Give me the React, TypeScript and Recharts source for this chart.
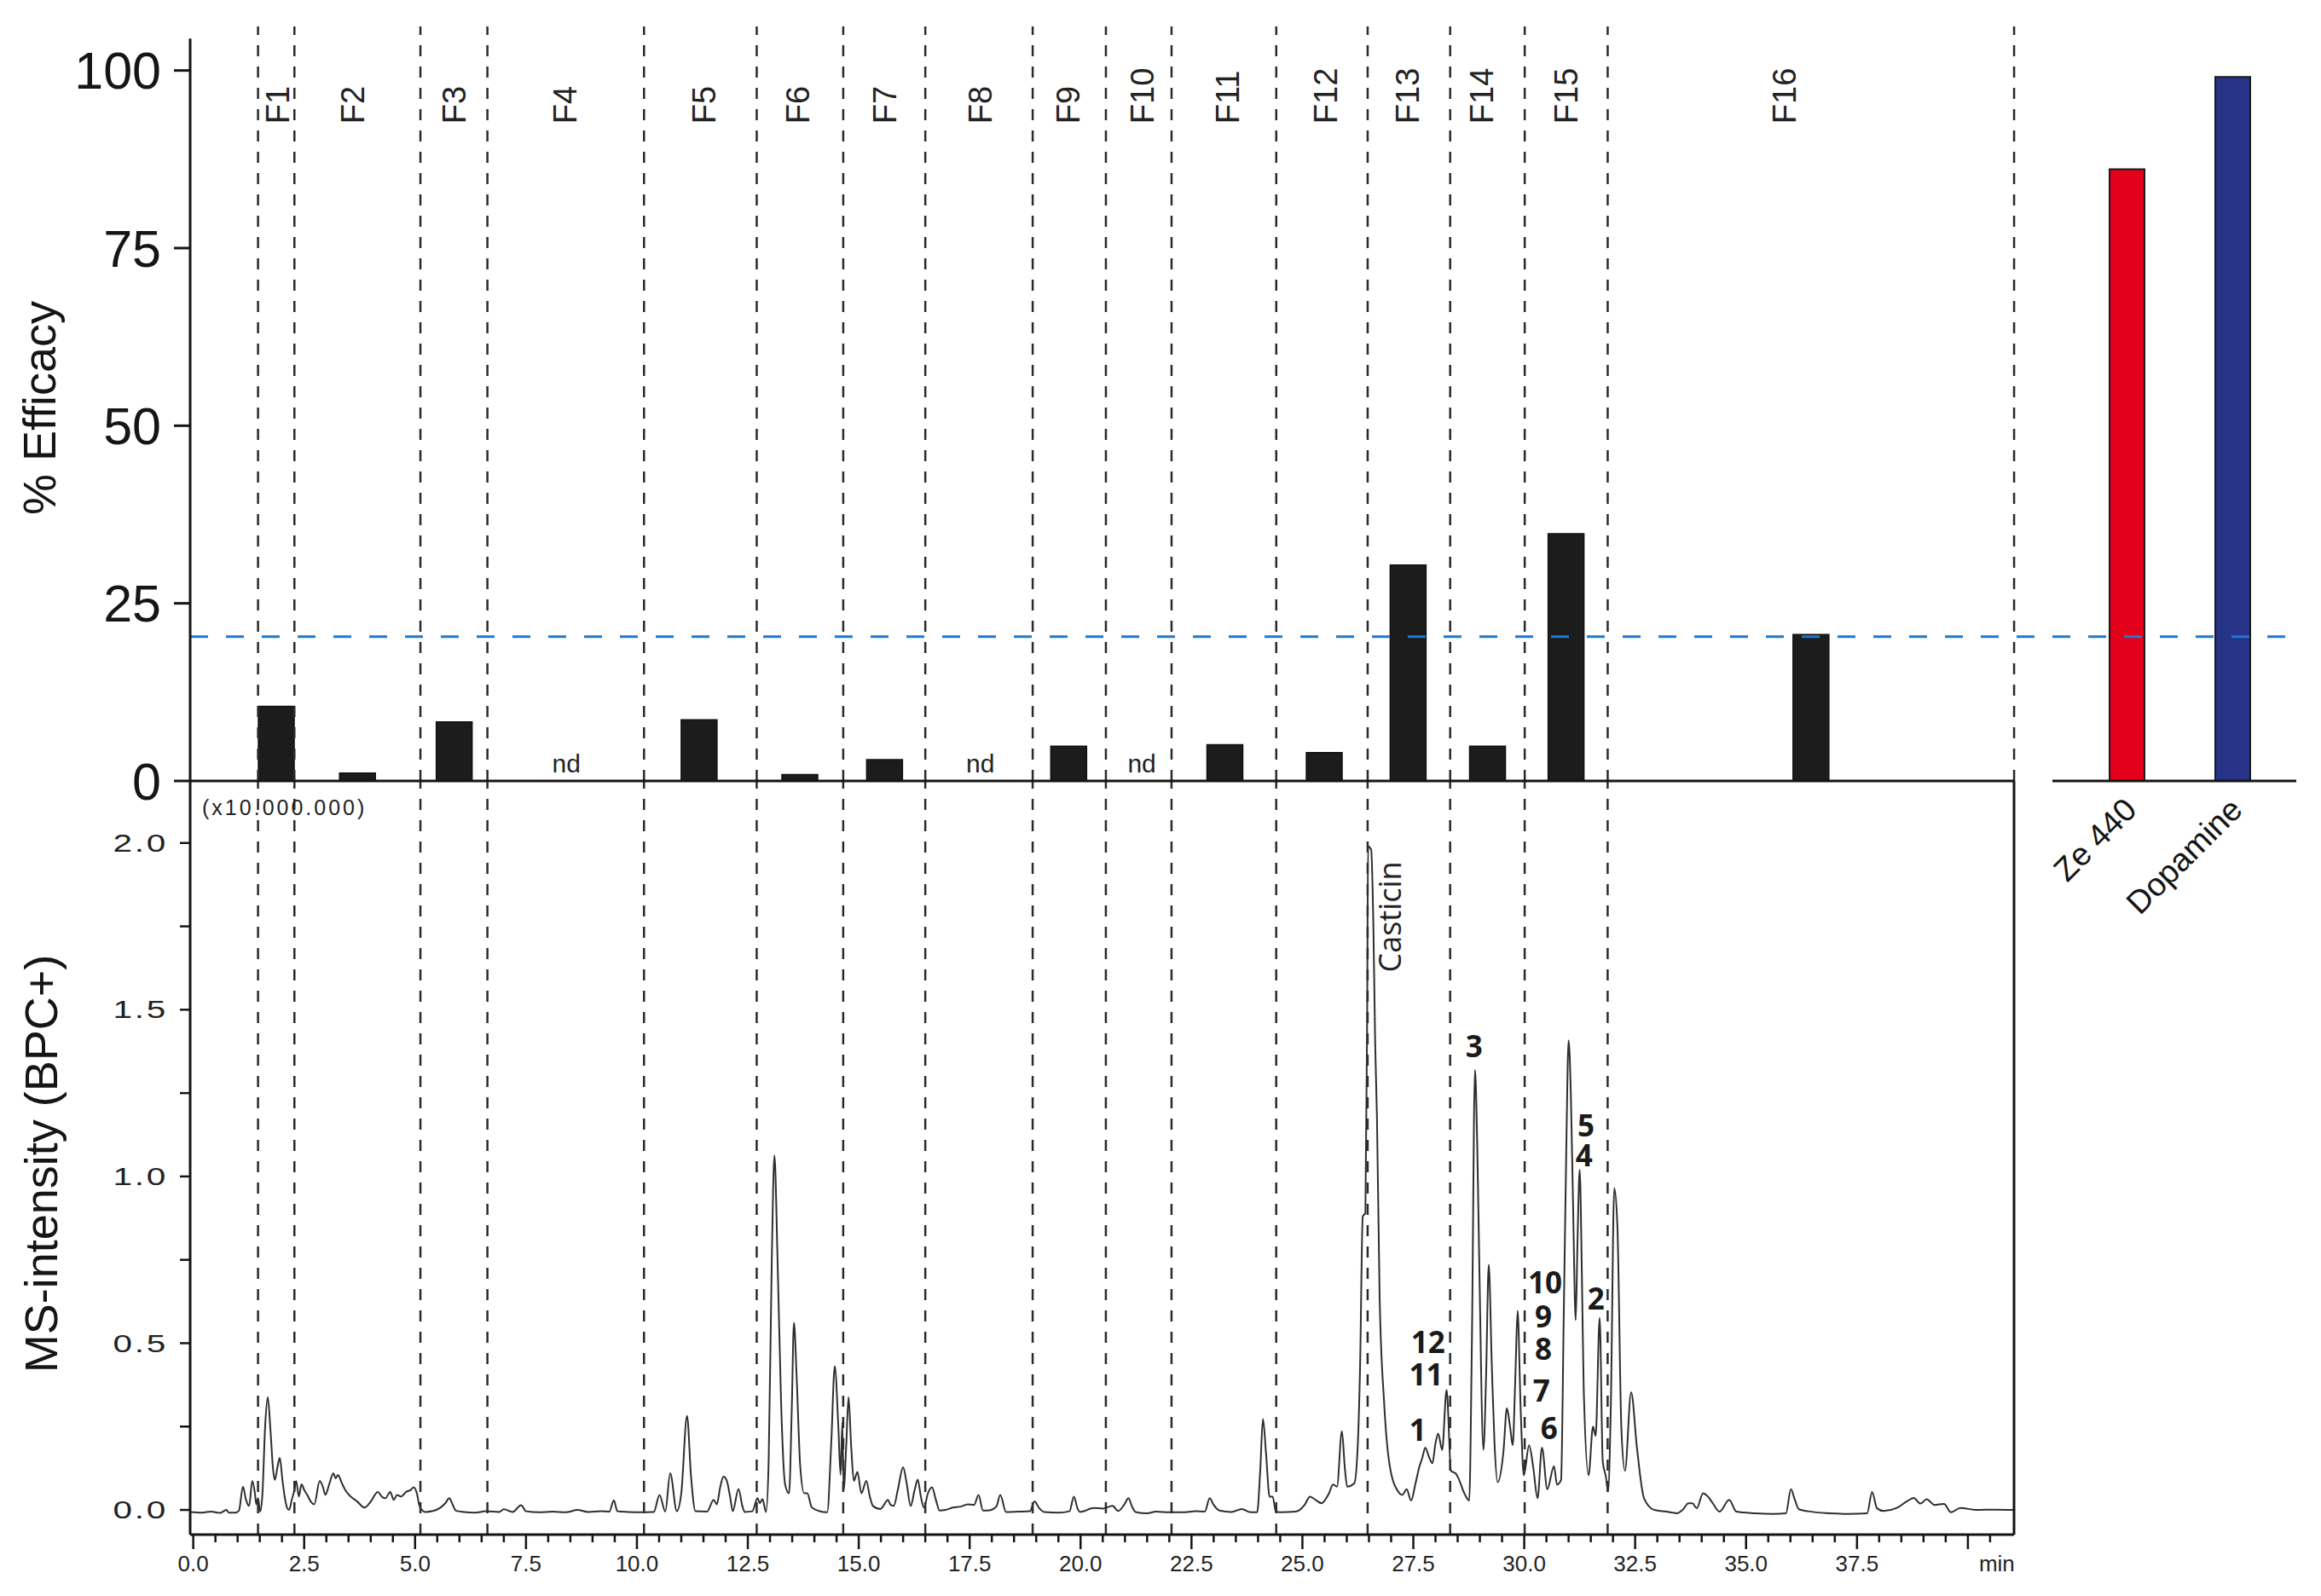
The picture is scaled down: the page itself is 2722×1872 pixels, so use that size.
import React from "react";
import {
  ComposedChart,
  BarChart,
  Bar,
  Line,
  Scatter,
  XAxis,
  YAxis,
  ReferenceLine,
  Cell,
} from "recharts";

const PAGE_W = 2722;
const PAGE_H = 1872;

const SANS = "'Liberation Sans', Arial, Helvetica, sans-serif";
const MYRIAD = "'Open Sans', 'Liberation Sans', sans-serif";
const INK = "#151515";

// shared retention time axis (min)
const T_MIN = -0.07;
const T_MAX = 41.04;
const T_MAX_TOP = 47.4; // top panel keeps going under the reference bars

// ---- efficacy of the fractions ----
const FRACTIONS = ["F1", "F2", "F3", "F4", "F5", "F6", "F7", "F8", "F9", "F10", "F11", "F12", "F13", "F14", "F15", "F16"];
const FRACTION_BAR_T = [1.87, 3.7, 5.88, 8.41, 11.4, 13.67, 15.58, 17.74, 19.73, 21.38, 23.25, 25.49, 27.38, 29.17, 30.94, 36.46];
const FRACTION_EFFICACY = [10.5, 1.1, 8.3, null, 8.6, 0.9, 3.0, null, 4.9, null, 5.1, 4.0, 30.4, 4.9, 34.8, 20.6];
const FRACTION_LABEL_T = [1.91, 3.6, 5.89, 8.38, 11.52, 13.64, 15.6, 17.74, 19.73, 21.4, 23.32, 25.52, 27.38, 29.05, 30.94, 35.87];
const FRACTION_EDGES = [1.46, 2.28, 5.12, 6.63, 10.16, 12.7, 14.65, 16.5, 18.92, 20.57, 22.05, 24.41, 26.47, 28.33, 30.01, 31.88, 41.04];
const EFFICACY_TICKS = [0, 25, 50, 75, 100];
const EFF_MAX = 106.2;
const EFF_AXIS_TOP = 104.5;
const THRESHOLD = 20.3;

// ---- reference compounds ----
const REFERENCES = ["Ze 440", "Dopamine"];
const REFERENCE_EFFICACY = [86.1, 99.1];
const REFERENCE_COLORS = ["#E2001A", "#263387"];

// ---- chromatogram, BPC+ (x10.000.000) ----
const CHROMATOGRAM: [number, number][] = [
  [-0.07, -0.006], [0.2, -0.008], [0.4, -0.005], [0.6, -0.009], [0.75, 0.0], [0.8, -0.008], [0.95, -0.008], [1.03, -0.002],
  [1.12, 0.07], [1.19, 0.03], [1.26, 0.012], [1.33, 0.087], [1.39, 0.05], [1.42, 0.017], [1.46, 0.035], [1.51, -0.005],
  [1.56, 0.05], [1.62, 0.25], [1.68, 0.338], [1.74, 0.24], [1.8, 0.12], [1.84, 0.09], [1.9, 0.13], [1.95, 0.156],
  [2.01, 0.09], [2.06, 0.04], [2.12, 0.005], [2.16, 0.0], [2.22, 0.03], [2.28, 0.06], [2.32, 0.087], [2.38, 0.04],
  [2.44, 0.077], [2.5, 0.06], [2.57, 0.045], [2.65, 0.025], [2.73, 0.017], [2.85, 0.087], [2.92, 0.07], [2.98, 0.045],
  [3.06, 0.075], [3.16, 0.11], [3.21, 0.095], [3.26, 0.105], [3.35, 0.08], [3.43, 0.059], [3.55, 0.04], [3.69, 0.026],
  [3.86, 0.007], [4.0, 0.025], [4.16, 0.054], [4.25, 0.04], [4.33, 0.035], [4.44, 0.054], [4.52, 0.03], [4.59, 0.045],
  [4.68, 0.04], [4.8, 0.054], [4.9, 0.06], [4.97, 0.068], [5.04, 0.05], [5.1, 0.012], [5.23, -0.006], [5.4, -0.003],
  [5.57, 0.007], [5.68, 0.02], [5.77, 0.035], [5.85, 0.015], [5.92, -0.002], [6.1, -0.006], [6.35, -0.008], [6.6, -0.004],
  [6.9, -0.006], [7.0, 0.002], [7.2, -0.006], [7.39, 0.014], [7.5, -0.004], [7.8, -0.007], [8.1, -0.005], [8.4, -0.007],
  [8.66, 0.0], [8.9, -0.006], [9.2, -0.004], [9.38, -0.005], [9.48, 0.029], [9.56, -0.004], [9.8, -0.006], [10.1, -0.007],
  [10.38, -0.006], [10.51, 0.045], [10.64, -0.005], [10.75, 0.11], [10.9, -0.004], [11.0, 0.05], [11.13, 0.282], [11.22, 0.1],
  [11.32, -0.004], [11.58, -0.005], [11.73, 0.03], [11.8, 0.017], [11.88, 0.07], [11.95, 0.1], [12.02, 0.09], [12.1, 0.04],
  [12.16, -0.004], [12.29, 0.063], [12.38, 0.01], [12.43, -0.006], [12.6, -0.004], [12.72, 0.035], [12.77, 0.02], [12.83, 0.033],
  [12.91, -0.006], [12.97, 0.15], [13.04, 0.75], [13.1, 1.063], [13.17, 0.75], [13.25, 0.32], [13.34, 0.077], [13.43, 0.05],
  [13.49, 0.3], [13.54, 0.561], [13.6, 0.4], [13.68, 0.133], [13.77, 0.05], [13.84, 0.05], [13.94, 0.008], [14.1, -0.003],
  [14.29, -0.007], [14.38, 0.2], [14.46, 0.431], [14.54, 0.25], [14.59, 0.105], [14.63, 0.263], [14.66, 0.06], [14.72, 0.2],
  [14.77, 0.338], [14.83, 0.19], [14.89, 0.087], [14.97, 0.114], [15.06, 0.05], [15.17, 0.087], [15.25, 0.04], [15.32, 0.012],
  [15.49, 0.003], [15.66, 0.03], [15.72, 0.015], [15.79, 0.012], [15.88, 0.06], [16.0, 0.128], [16.08, 0.08], [16.17, 0.012],
  [16.26, 0.06], [16.33, 0.091], [16.4, 0.04], [16.47, 0.007], [16.56, 0.05], [16.65, 0.068], [16.74, 0.03], [16.82, -0.002],
  [16.95, 0.0], [17.12, 0.007], [17.3, 0.01], [17.46, 0.017], [17.6, 0.015], [17.7, 0.045], [17.8, -0.002], [17.95, -0.001],
  [18.1, 0.01], [18.19, 0.045], [18.32, -0.006], [18.6, -0.005], [18.86, -0.004], [18.96, 0.026], [19.07, 0.005], [19.18, -0.006],
  [19.5, -0.008], [19.75, -0.004], [19.85, 0.04], [19.93, 0.005], [19.99, -0.006], [20.3, 0.006], [20.5, 0.004], [20.72, 0.012],
  [20.85, -0.003], [20.98, 0.015], [21.08, 0.035], [21.16, 0.01], [21.24, -0.006], [21.5, -0.01], [21.7, -0.005], [22.0, -0.007],
  [22.3, -0.007], [22.6, -0.004], [22.8, -0.005], [22.91, 0.035], [23.0, 0.015], [23.13, -0.002], [23.4, -0.006], [23.64, 0.003],
  [23.8, -0.006], [23.98, -0.007], [24.05, 0.12], [24.11, 0.273], [24.18, 0.17], [24.26, 0.04], [24.33, 0.04], [24.4, -0.005],
  [24.5, -0.007], [24.85, -0.005], [25.05, 0.015], [25.17, 0.04], [25.3, 0.03], [25.43, 0.02], [25.6, 0.05], [25.69, 0.076],
  [25.78, 0.07], [25.89, 0.236], [25.96, 0.12], [26.01, 0.07], [26.17, 0.08], [26.25, 0.2], [26.3, 0.43], [26.36, 0.88],
  [26.42, 0.89], [26.46, 1.5], [26.48, 1.99], [26.55, 1.98], [26.6, 1.75], [26.64, 1.4], [26.68, 1.18], [26.74, 0.645],
  [26.84, 0.326], [26.97, 0.131], [27.16, 0.055], [27.25, 0.045], [27.35, 0.062], [27.45, 0.028], [27.55, 0.08], [27.64, 0.131],
  [27.7, 0.155], [27.77, 0.187], [27.85, 0.16], [27.93, 0.14], [28.0, 0.2], [28.06, 0.229], [28.15, 0.18], [28.25, 0.36],
  [28.35, 0.117], [28.45, 0.11], [28.51, 0.097], [28.65, 0.05], [28.76, 0.028], [28.82, 0.5], [28.89, 1.319], [28.94, 1.1],
  [28.99, 0.714], [29.08, 0.18], [29.14, 0.4], [29.2, 0.735], [29.27, 0.43], [29.33, 0.2], [29.4, 0.083], [29.53, 0.173],
  [29.61, 0.305], [29.68, 0.25], [29.74, 0.194], [29.8, 0.4], [29.85, 0.597], [29.92, 0.3], [29.99, 0.104], [30.11, 0.194],
  [30.2, 0.131], [30.3, 0.035], [30.4, 0.187], [30.52, 0.062], [30.67, 0.131], [30.74, 0.076], [30.83, 0.09], [30.89, 0.576],
  [30.95, 1.1], [31.0, 1.408], [31.05, 1.25], [31.1, 0.92], [31.16, 0.569], [31.2, 0.8], [31.25, 1.02], [31.3, 0.7],
  [31.34, 0.367], [31.45, 0.104], [31.55, 0.25], [31.61, 0.222], [31.7, 0.576], [31.77, 0.145], [31.84, 0.1], [31.89, 0.055],
  [31.95, 0.298], [32.03, 0.965], [32.1, 0.85], [32.19, 0.243], [32.27, 0.117], [32.41, 0.353], [32.54, 0.187], [32.7, 0.035],
  [32.93, 0.0], [33.2, -0.005], [33.44, -0.01], [33.57, 0.0], [33.7, 0.02], [33.79, 0.02], [33.89, 0.005], [34.03, 0.05],
  [34.14, 0.04], [34.25, 0.02], [34.4, -0.005], [34.62, 0.03], [34.78, -0.005], [35.2, -0.01], [35.62, -0.012], [35.9, -0.01],
  [36.01, 0.062], [36.1, 0.03], [36.19, 0.002], [36.4, -0.004], [36.9, -0.01], [37.3, -0.012], [37.73, -0.01], [37.84, 0.054],
  [37.95, 0.005], [38.1, -0.003], [38.4, 0.006], [38.64, 0.027], [38.78, 0.036], [38.93, 0.019], [39.07, 0.032], [39.25, 0.015],
  [39.46, 0.018], [39.62, -0.007], [39.83, 0.006], [40.2, 0.0], [40.6, 0.001], [41.04, 0.0],
];
const I_MIN = -0.074;
const I_MAX = 2.186;
const I_TICKS = [0, 0.25, 0.5, 0.75, 1, 1.25, 1.5, 1.75, 2];
const I_TICK_LABELS = ["0.0", "", "0.5", "", "1.0", "", "1.5", "", "2.0"];
const X_TICKS = Array.from({ length: 82 }, (_, k) => k * 0.5);
const X_TICK_LABELS = ["0.0", "2.5", "5.0", "7.5", "10.0", "12.5", "15.0", "17.5", "20.0", "22.5", "25.0", "27.5", "30.0", "32.5", "35.0", "37.5"];

// numbered compounds on the trace
const PEAK_TAGS = ["3", "5", "4", "10", "9", "8", "7", "6", "2", "12", "11", "1"];
const PEAK_TAG_T = [28.87, 31.39, 31.35, 30.47, 30.43, 30.43, 30.39, 30.56, 31.62, 27.83, 27.79, 27.6];
const PEAK_TAG_I = [1.392, 1.155, 1.065, 0.685, 0.582, 0.485, 0.36, 0.248, 0.636, 0.506, 0.409, 0.243];

const barData = FRACTIONS.map((name, k) => ({ name, t: FRACTION_BAR_T[k], eff: FRACTION_EFFICACY[k] }));
const fractionTags = FRACTIONS.map((name, k) => ({ t: FRACTION_LABEL_T[k], y: 92.5, text: name }));
const ndTags = barData.filter((d) => d.eff === null).map((d) => ({ t: d.t, y: 1.2, text: "nd" }));
const refData = REFERENCES.map((name, k) => ({ name, eff: REFERENCE_EFFICACY[k] }));
const chromData = CHROMATOGRAM.map(([t, i]) => ({ t, i }));
const peakTags = PEAK_TAGS.map((text, k) => ({ t: PEAK_TAG_T[k], y: PEAK_TAG_I[k], text }));
const casticinTag = [{ t: 26.97, y: 1.612, text: "Casticin" }];
const scaleTag = [{ t: 0.2, y: 2.084, text: "(x10.000.000)" }];

const layer: React.CSSProperties = { position: "absolute", left: 0, top: 0 };

const AxisTitle = (props: any) => {
  const { viewBox, title, baseX, shiftY } = props;
  const cy = viewBox.y + viewBox.height / 2 + shiftY;
  return (
    <text
      x={baseX}
      y={cy}
      transform={`rotate(-90 ${baseX} ${cy})`}
      textAnchor="middle"
      fontSize={54}
      fontFamily={SANS}
      fill={INK}
    >
      {title}
    </text>
  );
};

const FractionTag = (p: any) => (
  <text
    x={p.cx}
    y={p.cy}
    transform={`rotate(-90 ${p.cx} ${p.cy})`}
    dominantBaseline="central"
    fontSize={38}
    fontFamily={SANS}
    fill="#222"
  >
    {p.payload.text}
  </text>
);

const NdTag = (p: any) => (
  <text x={p.cx} y={p.cy} textAnchor="middle" fontSize={30} fontFamily={SANS} fill="#222">
    {p.payload.text}
  </text>
);

const PeakTag = (p: any) => (
  <text
    x={p.cx}
    y={p.cy}
    textAnchor="middle"
    dominantBaseline="central"
    fontSize={35}
    fontWeight={700}
    fontFamily={MYRIAD}
    fill="#1a1a1a"
  >
    {p.payload.text}
  </text>
);

const CasticinTag = (p: any) => (
  <text
    x={p.cx}
    y={p.cy}
    transform={`rotate(-90 ${p.cx} ${p.cy})`}
    dominantBaseline="central"
    fontSize={36}
    fontFamily={MYRIAD}
    fill="#222"
  >
    {p.payload.text}
  </text>
);

const ScaleTag = (p: any) => (
  <text x={p.cx} y={p.cy} fontSize={25} letterSpacing={3} fontFamily={SANS} fill="#222">
    {p.payload.text}
  </text>
);

// wide, extended digits on the intensity axis
const IntensityTick = (props: any) => {
  const { x, y, index } = props;
  const label = I_TICK_LABELS[index];
  if (!label) return null;
  return (
    <text
      transform={`translate(${x} ${y}) scale(1.35 1)`}
      textAnchor="end"
      dominantBaseline="central"
      fontSize={30}
      letterSpacing={2}
      fontFamily={SANS}
      fill="#222"
    >
      {label}
    </text>
  );
};

const TimeTick = (props: any) => {
  const { x, y, payload } = props;
  const k = Math.round(payload.value * 2);
  const major = k % 5 === 0;
  const label = major ? X_TICK_LABELS[k / 5] : undefined;
  return (
    <g>
      <line x1={x} x2={x} y1={y} y2={y + (major ? 17 : 9)} stroke={INK} strokeWidth={2.5} />
      {label && (
        <text x={x} y={y + 43} textAnchor="middle" fontSize={26} fontFamily={SANS} fill="#222">
          {label}
        </text>
      )}
      {k === 81 && (
        <text x={x + 8} y={y + 43} textAnchor="middle" fontSize={26} fontFamily={SANS} fill="#222">
          min
        </text>
      )}
    </g>
  );
};

const ReferenceTick = (props: any) => {
  const { x, y, payload } = props;
  const ax = x + 14;
  const ay = y + 36;
  return (
    <text
      x={ax}
      y={ay}
      transform={`rotate(-45 ${ax} ${ay})`}
      textAnchor="end"
      fontSize={38}
      fontFamily={SANS}
      fill={INK}
    >
      {payload.value}
    </text>
  );
};

export default function App() {
  return (
    <div style={{ position: "absolute", left: 0, top: 0, width: PAGE_W, height: PAGE_H, background: "#fff" }}>
      {/* reference compounds */}
      <div style={layer}>
        <BarChart width={PAGE_W} height={PAGE_H} data={refData} margin={{ top: 31, right: 29, bottom: 772, left: 2407 }}>
          <XAxis
            dataKey="name"
            height={184}
            padding={{ left: 25, right: 13 }}
            interval={0}
            tickSize={0}
            tickMargin={0}
            tickLine={false}
            axisLine={{ stroke: INK, strokeWidth: 3 }}
            tick={<ReferenceTick />}
          />
          <YAxis hide type="number" domain={[0, EFF_MAX]} allowDataOverflow />
          <Bar dataKey="eff" barSize={41} stroke="#1a1a1a" strokeWidth={2} isAnimationActive={false}>
            {refData.map((d, k) => (
              <Cell key={d.name} fill={REFERENCE_COLORS[k]} />
            ))}
          </Bar>
        </BarChart>
      </div>

      {/* chromatogram */}
      <div style={layer}>
        <ComposedChart width={PAGE_W} height={PAGE_H} data={chromData} margin={{ top: 916, right: PAGE_W - 2362, bottom: 0, left: 0 }}>
          <XAxis
            type="number"
            dataKey="t"
            domain={[T_MIN, T_MAX]}
            allowDataOverflow
            ticks={X_TICKS}
            interval={0}
            height={72}
            tickSize={0}
            tickMargin={0}
            tickLine={false}
            axisLine={{ stroke: INK, strokeWidth: 3 }}
            tick={<TimeTick />}
          />
          <YAxis
            type="number"
            domain={[I_MIN, I_MAX]}
            allowDataOverflow
            ticks={I_TICKS}
            interval={0}
            width={223}
            tickSize={12}
            tickMargin={14}
            axisLine={{ stroke: INK, strokeWidth: 3 }}
            tickLine={{ stroke: INK, strokeWidth: 2.5 }}
            tick={<IntensityTick />}
            label={<AxisTitle title="MS-intensity (BPC+)" baseX={67} shiftY={7} />}
          />
          {FRACTION_EDGES.slice(0, -1).map((e) => (
            <ReferenceLine key={`b-${e}`} x={e} stroke="#2a2a2a" strokeWidth={2.5} strokeDasharray="13 12" />
          ))}
          <Line
            dataKey="i"
            type="monotone"
            dot={false}
            stroke="#2e2e2e"
            strokeWidth={2}
            isAnimationActive={false}
          />
          <ReferenceLine x={T_MAX} stroke={INK} strokeWidth={3} />
          <Scatter data={peakTags} dataKey="y" shape={PeakTag} isAnimationActive={false} />
          <Scatter data={casticinTag} dataKey="y" shape={CasticinTag} isAnimationActive={false} />
          <Scatter data={scaleTag} dataKey="y" shape={ScaleTag} isAnimationActive={false} />
        </ComposedChart>
      </div>

      {/* efficacy of fractions */}
      <div style={layer}>
        <ComposedChart width={PAGE_W} height={PAGE_H} data={barData} margin={{ top: 31, right: 29, bottom: PAGE_H - 916, left: 0 }}>
          <XAxis type="number" dataKey="t" domain={[T_MIN, T_MAX_TOP]} allowDataOverflow hide />
          <XAxis xAxisId="tags" type="number" dataKey="t" domain={[T_MIN, T_MAX_TOP]} allowDataOverflow hide />
          <YAxis
            type="number"
            domain={[0, EFF_MAX]}
            allowDataOverflow
            ticks={EFFICACY_TICKS}
            interval={0}
            width={223}
            tickSize={19}
            tickMargin={15}
            axisLine={false}
            tickLine={{ stroke: INK, strokeWidth: 3 }}
            tick={{ fontSize: 61, fontFamily: SANS, fill: INK }}
            label={<AxisTitle title="% Efficacy" baseX={65} shiftY={5} />}
          />
          <Bar dataKey="eff" barSize={42} fill="#1c1c1c" stroke="#111" strokeWidth={1.5} isAnimationActive={false} />
          {FRACTION_EDGES.map((e) => (
            <ReferenceLine key={`t-${e}`} x={e} stroke="#2a2a2a" strokeWidth={2.5} strokeDasharray="13 12" />
          ))}
          <ReferenceLine y={THRESHOLD} stroke="#1f78d1" strokeWidth={3} strokeDasharray="21 21" />
          <ReferenceLine segment={[{ x: T_MIN, y: 0 }, { x: T_MAX, y: 0 }]} stroke={INK} strokeWidth={3} />
          <ReferenceLine segment={[{ x: T_MIN, y: 0 }, { x: T_MIN, y: EFF_AXIS_TOP }]} stroke={INK} strokeWidth={3} />
          <Scatter xAxisId="tags" data={fractionTags} dataKey="y" shape={FractionTag} isAnimationActive={false} />
          <Scatter xAxisId="tags" data={ndTags} dataKey="y" shape={NdTag} isAnimationActive={false} />
        </ComposedChart>
      </div>
    </div>
  );
}
